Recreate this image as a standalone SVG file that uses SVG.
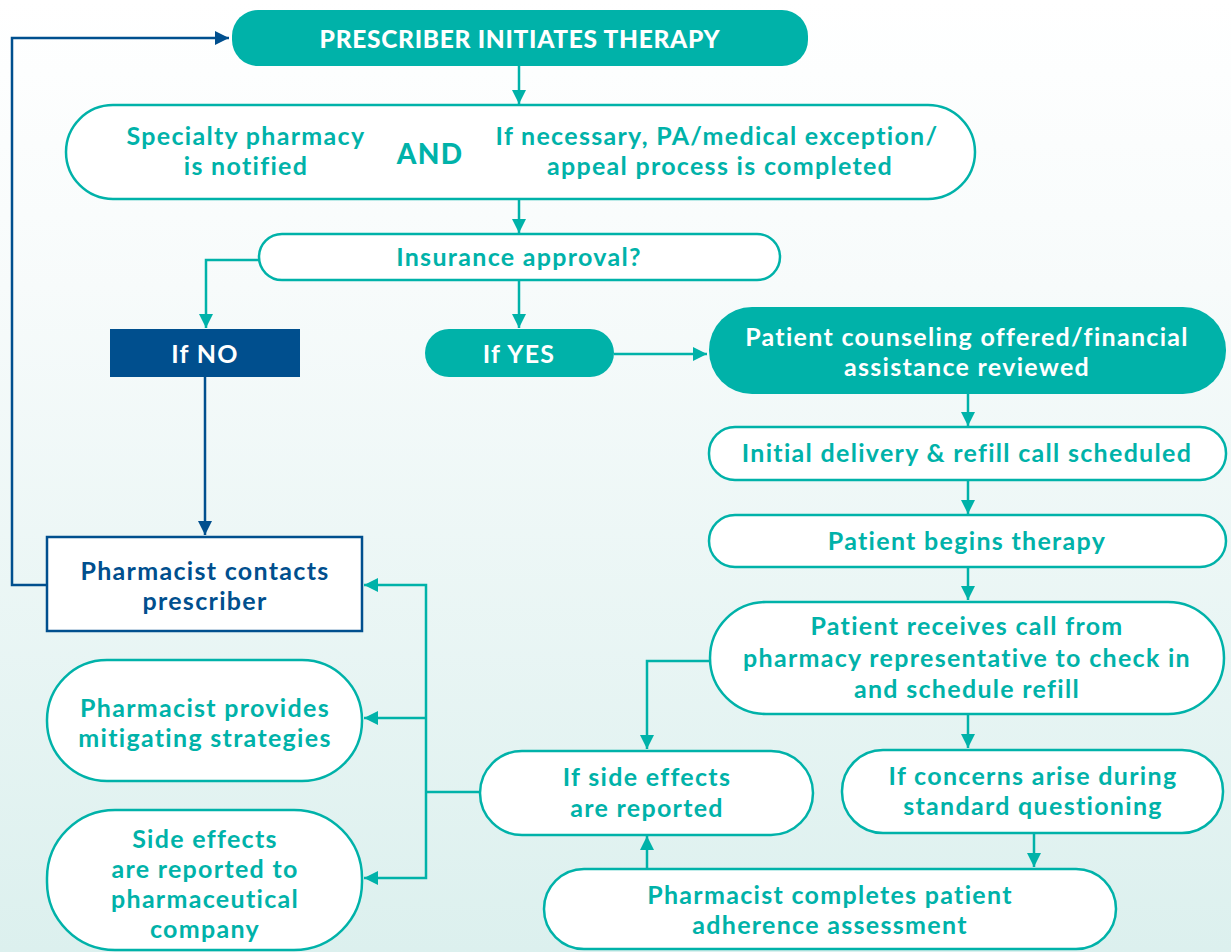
<svg xmlns="http://www.w3.org/2000/svg" width="1231" height="952" viewBox="0 0 1231 952">
<defs>
<linearGradient id="bg" x1="0" y1="0" x2="0" y2="1">
<stop offset="0" stop-color="#ffffff"/>
<stop offset="0.3" stop-color="#f7fbfb"/>
<stop offset="1" stop-color="#dcf0ee"/>
</linearGradient>
<marker id="at" markerUnits="userSpaceOnUse" markerWidth="14" markerHeight="14" viewBox="0 0 14 14" refX="14" refY="7" orient="auto">
<path d="M0,0 L14,7 L0,14 Z" fill="#00b2a9"/>
</marker>
<marker id="ab" markerUnits="userSpaceOnUse" markerWidth="14" markerHeight="14" viewBox="0 0 14 14" refX="14" refY="7" orient="auto">
<path d="M0,0 L14,7 L0,14 Z" fill="#004f8e"/>
</marker>
</defs>
<style>
text{font-family:Lato,"Liberation Sans",sans-serif;font-weight:700;font-size:25px;letter-spacing:1.3px;text-anchor:middle}
.t{fill:#00b2a9}
.w{fill:#ffffff}
.b{fill:#004f8e}
.tb{fill:#ffffff;stroke:#00b2a9;stroke-width:2.5}
.tf{fill:#00b2a9}
.c{fill:none;stroke:#00b2a9;stroke-width:2.5;marker-end:url(#at)}
.cl{fill:none;stroke:#00b2a9;stroke-width:2.5}
.cb{fill:none;stroke:#004f8e;stroke-width:2.5;marker-end:url(#ab)}
</style>
<rect x="0" y="0" width="1231" height="952" fill="url(#bg)"/>

<g id="connectors">
<path class="cb" d="M47,585 H12 V38 H229"/>
<path class="c" d="M519,66 V104"/>
<path class="c" d="M519,199 V233"/>
<path class="c" d="M259,260 H206 V328"/>
<path class="c" d="M519,280 V328"/>
<path class="cb" d="M205,377 V535"/>
<path class="c" d="M614,354 H707"/>
<path class="c" d="M968,394 V426"/>
<path class="c" d="M968,480 V514"/>
<path class="c" d="M968,567 V600"/>
<path class="c" d="M710,661 H647 V749"/>
<path class="c" d="M968,714 V748"/>
<path class="c" d="M1034,833 V867"/>
<path class="c" d="M647,869 V836"/>
<path class="cl" d="M480,792 H426"/>
<path class="c" d="M426,792 V585 H364"/>
<path class="c" d="M426,718 H364"/>
<path class="c" d="M426,792 V878 H364"/>
</g>

<g id="prescriber-initiates">
<rect class="tf" x="232" y="10" width="576" height="56" rx="26"/>
<text class="w" x="520" y="48" style="font-size:24.5px;letter-spacing:0.7px;font-weight:900">PRESCRIBER INITIATES THERAPY</text>
</g>

<g id="notified">
<rect class="tb" x="66" y="105" width="909" height="94" rx="47"/>
<text class="t" x="246" y="145">Specialty pharmacy</text>
<text class="t" x="246" y="175">is notified</text>
<text class="t" x="430" y="164" style="font-size:28px;font-weight:900">AND</text>
<text class="t" x="717" y="145">If necessary, PA/medical exception/</text>
<text class="t" x="720" y="175">appeal process is completed</text>
</g>

<g id="insurance">
<rect class="tb" x="259" y="234" width="521" height="46" rx="23"/>
<text class="t" x="519" y="266">Insurance approval?</text>
</g>

<g id="if-no">
<rect x="110" y="329" width="190" height="48" fill="#004f8e"/>
<text class="w" x="205" y="363">If NO</text>
</g>

<g id="if-yes">
<rect class="tf" x="425" y="329" width="189" height="48" rx="24"/>
<text class="w" x="519" y="363">If YES</text>
</g>

<g id="counseling">
<rect class="tf" x="709" y="307" width="517" height="87" rx="43"/>
<text class="w" x="967" y="346">Patient counseling offered/financial</text>
<text class="w" x="967" y="376">assistance reviewed</text>
</g>

<g id="initial-delivery">
<rect class="tb" x="709" y="427" width="517" height="53" rx="26"/>
<text class="t" x="967" y="462">Initial delivery &amp; refill call scheduled</text>
</g>

<g id="begins-therapy">
<rect class="tb" x="709" y="515" width="517" height="52" rx="26"/>
<text class="t" x="967" y="550">Patient begins therapy</text>
</g>

<g id="receives-call">
<rect class="tb" x="710" y="602" width="514" height="112" rx="56"/>
<text class="t" x="967" y="635">Patient receives call from</text>
<text class="t" x="967" y="667">pharmacy representative to check in</text>
<text class="t" x="967" y="698">and schedule refill</text>
</g>

<g id="side-effects-reported">
<rect class="tb" x="480" y="751" width="333" height="84" rx="42"/>
<text class="t" x="647" y="786">If side effects</text>
<text class="t" x="647" y="817">are reported</text>
</g>

<g id="concerns">
<rect class="tb" x="842" y="750" width="381" height="83" rx="41"/>
<text class="t" x="1033" y="785">If concerns arise during</text>
<text class="t" x="1033" y="815">standard questioning</text>
</g>

<g id="adherence">
<rect class="tb" x="544" y="869" width="572" height="80" rx="40"/>
<text class="t" x="830" y="904">Pharmacist completes patient</text>
<text class="t" x="830" y="934">adherence assessment</text>
</g>

<g id="contacts-prescriber">
<rect x="47" y="537" width="315" height="94" fill="#ffffff" stroke="#004f8e" stroke-width="2.5"/>
<text class="b" x="205" y="580">Pharmacist contacts</text>
<text class="b" x="205" y="610">prescriber</text>
</g>

<g id="mitigating">
<rect class="tb" x="47" y="660" width="315" height="121" rx="60"/>
<text class="t" x="205" y="717">Pharmacist provides</text>
<text class="t" x="205" y="747">mitigating strategies</text>
</g>

<g id="reported-company">
<rect class="tb" x="47" y="810" width="315" height="140" rx="68"/>
<text class="t" x="205" y="848">Side effects</text>
<text class="t" x="205" y="878">are reported to</text>
<text class="t" x="205" y="908">pharmaceutical</text>
<text class="t" x="205" y="938">company</text>
</g>
</svg>
